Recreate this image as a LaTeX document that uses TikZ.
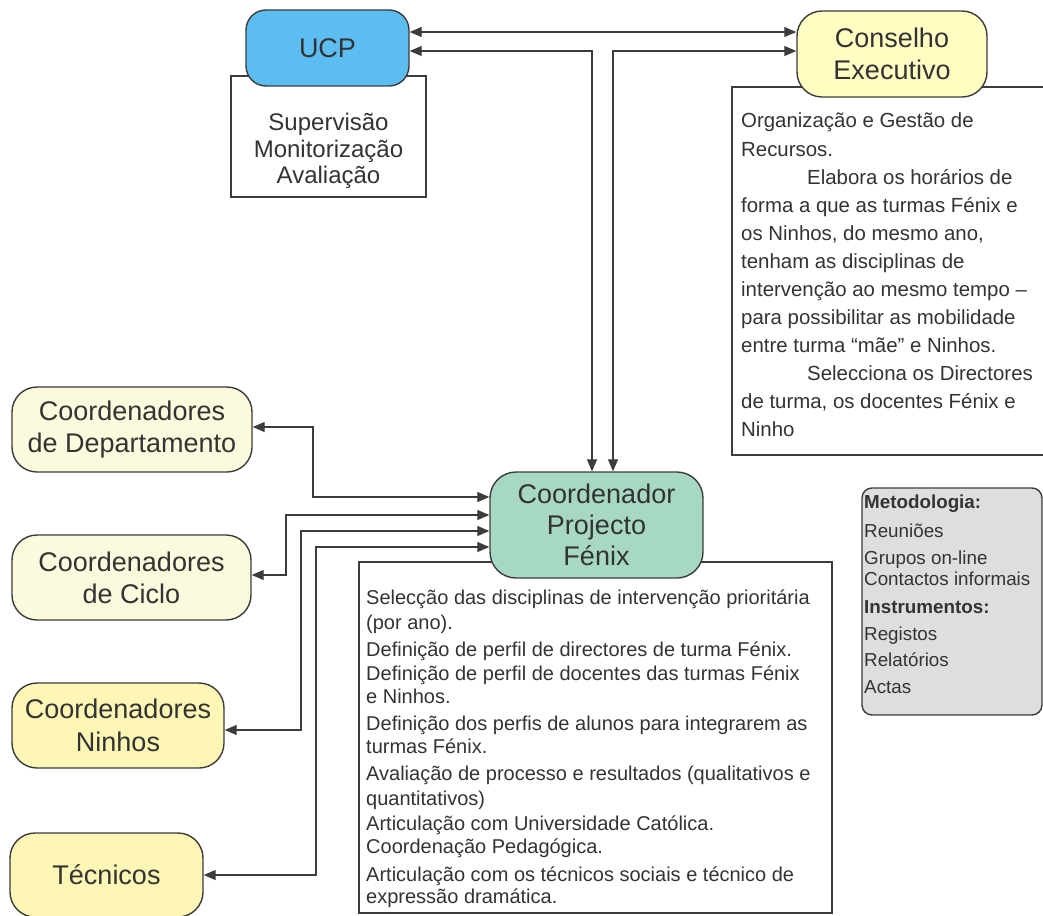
\documentclass[tikz,border=0pt]{standalone}
\usepackage{fontspec}
\setmainfont{Liberation Sans}
\usetikzlibrary{arrows.meta}
\definecolor{ucpblue}{HTML}{5CBDF1}
\definecolor{consyellow}{HTML}{FFFDC2}
\definecolor{cream}{HTML}{FBFADC}
\definecolor{ninhoyellow}{HTML}{FEF6B4}
\definecolor{mint}{HTML}{A7D8C3}
\definecolor{metgray}{HTML}{DEDEDE}
\definecolor{ink}{HTML}{333333}
\definecolor{edgegray}{HTML}{3C3C3C}
\begin{document}
\begin{tikzpicture}[x=1pt,y=-1pt,
  titlebox/.style={draw=edgegray,line width=1.4pt,inner sep=0pt,text=ink,align=center,font={\fontsize{27}{32}\selectfont}},
  plainbox/.style={draw=edgegray,line width=1.1pt,fill=white,inner sep=0pt},
  conn/.style={draw=edgegray,line width=1.2pt,{Triangle[length=12pt,width=10pt]}-{Triangle[length=12pt,width=10pt]}},
  ucptxt/.style={anchor=base,text=ink,inner sep=0pt,font={\fontsize{24}{26}\selectfont}},
  constxt/.style={anchor=base west,text=ink,inner sep=0pt,font={\fontsize{20.4}{28}\selectfont}},
  coordtxt/.style={anchor=base west,text=ink,inner sep=0pt,font={\fontsize{20}{24}\selectfont}},
  mettxt/.style={anchor=base west,text=ink,inner sep=0pt,font={\fontsize{18.8}{26}\selectfont}}]
\useasboundingbox (0,0) rectangle (1043,915);
\fill[white] (0,0) rectangle (1043,915);

% plain boxes
\node[plainbox,minimum width=195pt,minimum height=121pt] (ucpsub) at (328.5,136.5) {};
\node[plainbox,minimum width=318pt,minimum height=368pt] (conssub) at (891,271) {};
\node[plainbox,minimum width=473pt,minimum height=351pt] (coordsub) at (595.5,737.5) {};

% title boxes
\node[titlebox,fill=ucpblue,rounded corners=20pt,minimum width=163pt,minimum height=76pt] (ucp) at (327.5,48) {UCP};
\node[titlebox,fill=consyellow,rounded corners=25pt,minimum width=190pt,minimum height=86pt] (cons) at (892,54) {Conselho\\Executivo};
\node[titlebox,fill=mint,rounded corners=26pt,minimum width=213pt,minimum height=106pt,font={\fontsize{27}{31}\selectfont}] (coord) at (596.5,525) {Coordenador\\Projecto\\Fénix};
\node[titlebox,fill=cream,rounded corners=25pt,minimum width=240pt,minimum height=85pt] (dept) at (132,429.5) {Coordenadores\\de Departamento};
\node[titlebox,fill=cream,rounded corners=25pt,minimum width=239pt,minimum height=85pt] (ciclo) at (131.5,577.5) {Coordenadores\\de Ciclo};
\node[titlebox,fill=ninhoyellow,rounded corners=25pt,minimum width=212pt,minimum height=85pt,font={\fontsize{27}{33}\selectfont}] (ninhos) at (118,725.5) {Coordenadores\\Ninhos};
\node[titlebox,fill=ninhoyellow,rounded corners=25pt,minimum width=193pt,minimum height=84pt] (tecn) at (106.5,875) {Técnicos};
\node[draw=edgegray,line width=1.4pt,fill=metgray,rounded corners=10pt,minimum width=180pt,minimum height=227pt] (metod) at (952,601.5) {};

% texts
\foreach \yy/\txt [count=\i] in {130/Supervisão,157/Monitorização,183/Avaliação}
  \node[ucptxt] (ut\i) at (328.5,\yy) {\txt};

\foreach \xx/\yy/\txt [count=\i] in {
  741/128/{Organização e Gestão de},
  741/156/{Recursos.},
  807/184/{Elabora os horários de},
  741/212/{forma a que as turmas Fénix e},
  741/240/{os Ninhos, do mesmo ano,},
  741/268/{tenham as disciplinas de},
  741/296/{intervenção ao mesmo tempo –},
  741/324/{para possibilitar as mobilidade},
  741/352/{entre turma “mãe” e Ninhos.},
  807/380/{Selecciona os Directores},
  741/408/{de turma, os docentes Fénix e},
  741/436/{Ninho}}
  \node[constxt] (ct\i) at (\xx,\yy) {\txt};

\foreach \yy/\txt [count=\i] in {
  604/{Selecção das disciplinas de intervenção prioritária},
  629/{(por ano).},
  656/{Definição de perfil de directores de turma Fénix.},
  680/{Definição de perfil de docentes das turmas Fénix},
  703/{e Ninhos.},
  730/{Definição dos perfis de alunos para integrarem as},
  753/{turmas Fénix.},
  780/{Avaliação de processo e resultados (qualitativos e},
  805/{quantitativos)},
  830/{Articulação com Universidade Católica.},
  853/{Coordenação Pedagógica.},
  881/{Articulação com os técnicos sociais e técnico de},
  903/{expressão dramática.}}
  \node[coordtxt] (pt\i) at (366,\yy) {\txt};

\foreach \yy/\txt [count=\i] in {
  508/{\bfseries Metodologia:},
  537/{Reuniões},
  564/{Grupos on-line},
  585/{Contactos informais},
  613/{\bfseries Instrumentos:},
  640/{Registos},
  666/{Relatórios},
  693/{Actas}}
  \node[mettxt] (mt\i) at (864,\yy) {\txt};

% helper coordinates
\coordinate (hA) at (0,32);
\coordinate (hB) at (0,51);
\coordinate (vU) at (592,0);
\coordinate (vC) at (613,0);
\coordinate (dA) at (313,427);  \coordinate (dB) at (313,497);
\coordinate (cA) at (286,575);  \coordinate (cB) at (286,515);
\coordinate (nA) at (301,730);  \coordinate (nB) at (301,531);
\coordinate (tA) at (316,875);  \coordinate (tB) at (316,547);

% connectors
\draw[conn] (ucp.east |- hA) -- (cons.west |- hA);
\draw[conn] (ucp.east |- hB) -- (vU |- hB) -- (vU |- coord.north);
\draw[conn] (cons.west |- hB) -- (vC |- hB) -- (vC |- coord.north);
\draw[conn] (dept.east |- dA) -- (dA) -- (dB) -- (coord.west |- dB);
\draw[conn] (ciclo.east |- cA) -- (cA) -- (cB) -- (coord.west |- cB);
\draw[conn] (ninhos.east |- nA) -- (nA) -- (nB) -- (coord.west |- nB);
\draw[conn] (tecn.east |- tA) -- (tA) -- (tB) -- (coord.west |- tB);
\end{tikzpicture}
\end{document}
